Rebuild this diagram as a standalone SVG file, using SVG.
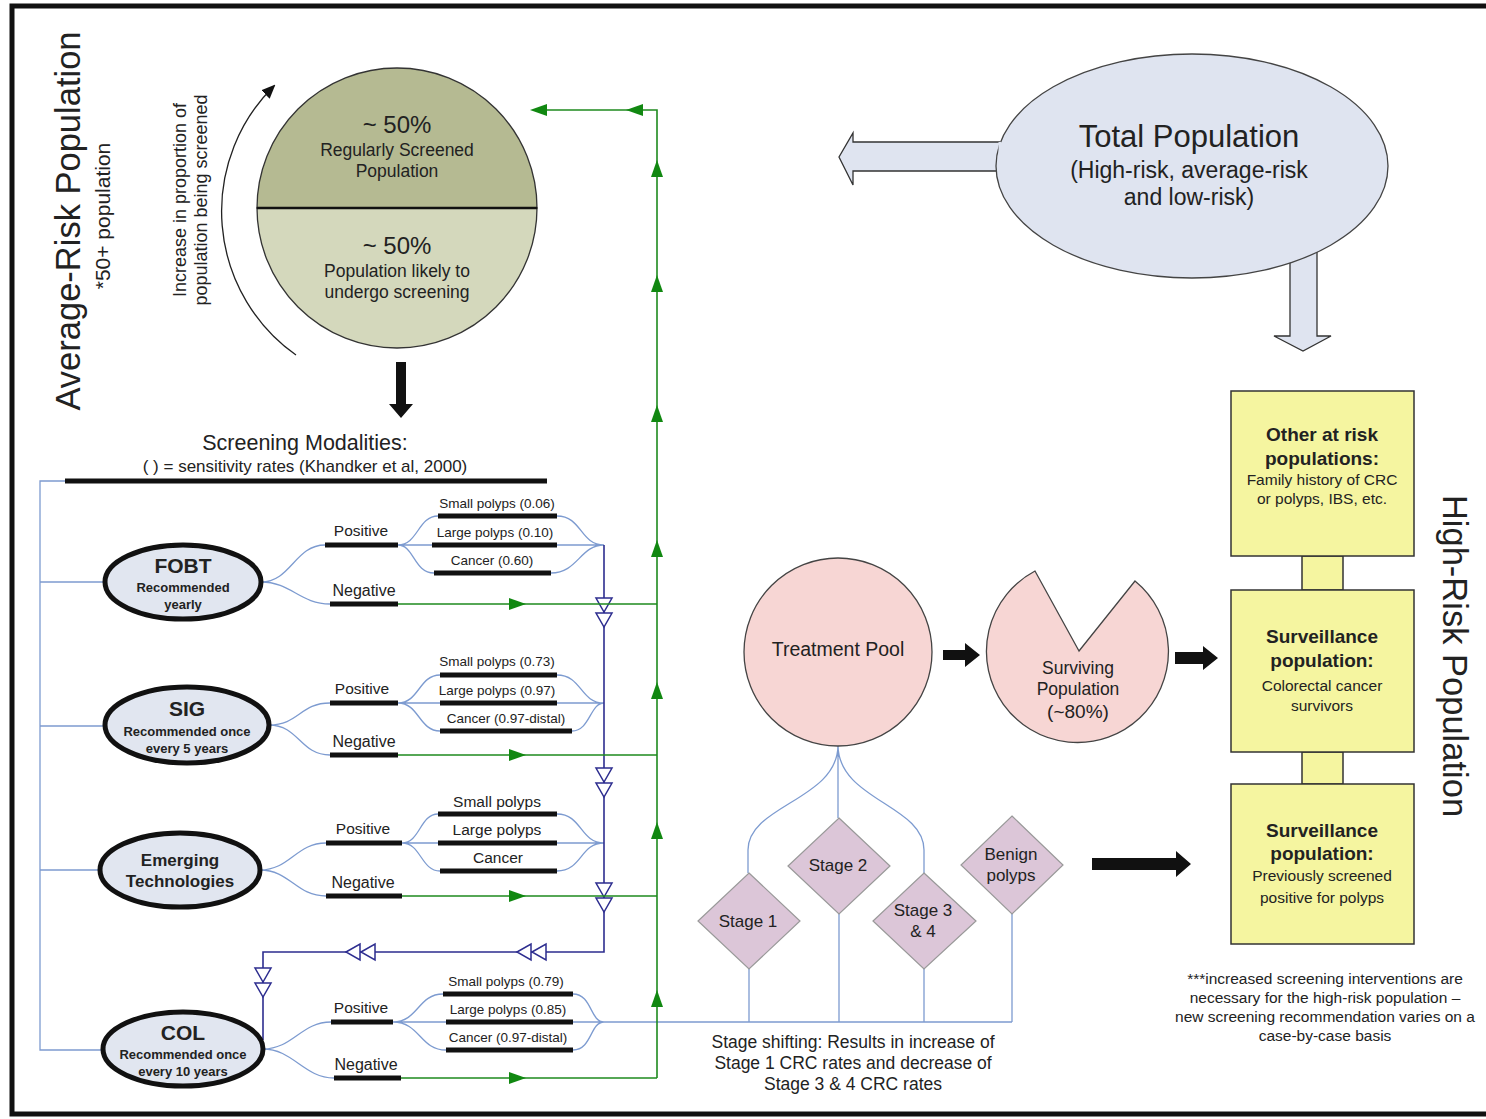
<svg xmlns="http://www.w3.org/2000/svg" width="1486" height="1119" viewBox="0 0 1486 1119">
<defs>
<style>
text{font-family:"Liberation Sans",Arial,sans-serif;fill:#222}
.c{text-anchor:middle}
.b{font-weight:bold}
.bar{stroke:#111;stroke-width:5;fill:none}
.lb{stroke:#7d9bd0;stroke-width:1.3;fill:none}
.nv{stroke:#2d2d8f;stroke-width:1.6;fill:none}
.gr{stroke:#1f8a1f;stroke-width:1.6;fill:none}
.gh{fill:#118811}
.hh{fill:#fff;stroke:#2d2d8f;stroke-width:1.5}
.node{fill:#e1e6f0;stroke:#111;stroke-width:5}
.dia{fill:#dcc6d8;stroke:#999;stroke-width:1.2}
.box{fill:#f5f5a0;stroke:#333;stroke-width:1.5}
.blk{fill:#111}
</style>
<marker id="arc" markerWidth="14" markerHeight="14" refX="12" refY="7" orient="auto" markerUnits="userSpaceOnUse">
<path d="M0 1 L14 7 L0 13 Z" fill="#111"/>
</marker>
<path id="gUp" d="M0 0 L-6 17 L6 17 Z"/>
<path id="gR" d="M0 0 L-17 -6 L-17 6 Z"/>
<path id="gL" d="M0 0 L17 -6 L17 6 Z"/>
<path id="dD" d="M-8 0 L8 0 L0 14 Z M-8 15 L8 15 L0 29 Z"/>
<path id="dL" d="M0 0 L14 -8 L14 8 Z M15 0 L29 -8 L29 8 Z"/>
</defs>
<rect x="0" y="0" width="1486" height="1119" fill="#fff"/>
<rect x="12" y="6" width="1480" height="1108" fill="none" stroke="#111" stroke-width="5"/>

<!-- side titles -->
<text x="80" y="221" class="c" font-size="34.5" transform="rotate(-90 80 221)">Average-Risk Population</text>
<text x="110" y="216" class="c" font-size="21" transform="rotate(-90 110 216)">*50+ population</text>
<text x="186" y="200" class="c" font-size="18" transform="rotate(-90 186 200)">Increase in proportion of</text>
<text x="207" y="200" class="c" font-size="18" transform="rotate(-90 207 200)">population being screened</text>
<text x="1443" y="656" class="c" font-size="34.5" transform="rotate(90 1443 656)">High-Risk Population</text>
<path d="M296 355 A176 176 0 0 1 274 86" fill="none" stroke="#222" stroke-width="1.3" marker-end="url(#arc)"/>

<!-- connectors -->
<g id="connectors">
<path class="lb" d="M65 481 L40 481 L40 1050 L103 1050 M40 582 L105 582 M40 726 L105 726 M40 870 L100 870"/>
<path class="lb" d="M261 582 C291 582 295 545 325 545 M261 582 C291 582 300 604 330 604 M398 545 C418 545 418 516 438 516 M398 545 L432 545 M398 545 C414 545 414 573 434 573 M557 516 C582 516 580 545 604 545 M557 545 L604 545 M551 573 C578 573 580 545 604 545"/>
<path class="lb" d="M269 725 C299 725 300 703 330 703 M269 725 C299 725 300 755 330 755 M398 703 C419 703 419 675 440 675 M398 703 L440 703 M398 703 C419 703 419 731 440 731 M557 675 C582 675 580 703 604 703 M557 703 L604 703 M572 731 C590 731 590 703 604 703"/>
<path class="lb" d="M260 870 C290 870 296 843 326 843 M260 870 C290 870 296 896 326 896 M402 843 C420 843 420 814 438 814 M402 843 L438 843 M402 843 C421 843 421 871 440 871 M557 814 C582 814 580 843 604 843 M557 843 L604 843 M557 871 C582 871 580 843 604 843"/>
<path class="lb" d="M263 1049 C293 1049 301 1022 331 1022 M263 1049 C293 1049 304 1078 334 1078 M393 1022 C418 1022 418 994 443 994 M393 1022 L446 1022 M393 1022 C420 1022 420 1050 446 1050 M573 994 C592 994 590 1022 604 1022 M573 1022 L604 1022 M573 1050 C592 1050 590 1022 604 1022 M604 1022 L1012 1022"/>
<path class="lb" d="M838 745 C838 800 748 805 748 850 L748 873 M838 745 L838 818 M838 745 C838 800 924 805 924 850 L924 873 M749 969 L749 1022 M839 914 L839 1022 M924 969 L924 1022 M1012 914 L1012 1022"/>
<path class="nv" d="M604 545 L604 952 L263 952 L263 1040"/>
<g class="hh">
<use href="#dD" x="604" y="598"/>
<use href="#dD" x="604" y="768"/>
<use href="#dD" x="604" y="883"/>
<use href="#dD" x="263" y="968"/>
<use href="#dL" x="346" y="952"/>
<use href="#dL" x="517" y="952"/>
</g>
<path class="gr" d="M398 604 L657 604 M398 755 L657 755 M402 896 L657 896 M401 1078 L657 1078 M657 1078 L657 110 L533 110"/>
<g class="gh">
<use href="#gR" x="526" y="604"/>
<use href="#gR" x="526" y="755"/>
<use href="#gR" x="526" y="896"/>
<use href="#gR" x="526" y="1078"/>
<use href="#gUp" x="657" y="990"/>
<use href="#gUp" x="657" y="822"/>
<use href="#gUp" x="657" y="682"/>
<use href="#gUp" x="657" y="540"/>
<use href="#gUp" x="657" y="405"/>
<use href="#gUp" x="657" y="275"/>
<use href="#gUp" x="657" y="160"/>
<use href="#gL" x="626" y="110"/>
<use href="#gL" x="530" y="110"/>
</g>
<path class="blk" d="M396 362 L406 362 L406 404 L413 404 L401 418 L389 404 L396 404 Z"/>
<path class="blk" d="M943 650 L965 650 L965 643 L980 655 L965 667 L965 660 L943 660 Z"/>
<path class="blk" d="M1175 652 L1203 652 L1203 646 L1218 658 L1203 670 L1203 664 L1175 664 Z"/>
<path class="blk" d="M1092 858 L1176 858 L1176 851 L1191 864 L1176 877 L1176 870 L1092 870 Z"/>
<path d="M1000 142 L853 142 L853 133 L839 157 L853 185 L853 171 L1000 171" fill="#dfe4f0" stroke="#333" stroke-width="1.3"/>
<path d="M1290 248 L1290 336 L1274 336 L1303 351 L1331 336 L1317 336 L1317 248" fill="#dfe4f0" stroke="#333" stroke-width="1.3"/>
</g>

<g id="screened-circle">
<path d="M257 208 A140 140 0 0 1 537 208 Z" fill="#b5ba92" stroke="#333" stroke-width="1.3"/>
<path d="M257 208 A140 140 0 0 0 537 208 Z" fill="#d4d8bc" stroke="#333" stroke-width="1.3"/>
<line x1="257" y1="208" x2="537" y2="208" stroke="#111" stroke-width="2.5"/>
<text x="397" y="133" class="c" font-size="24">~ 50%</text>
<text x="397" y="156" class="c" font-size="17.5">Regularly Screened</text>
<text x="397" y="177" class="c" font-size="17.5">Population</text>
<text x="397" y="254" class="c" font-size="24">~ 50%</text>
<text x="397" y="277" class="c" font-size="17.5">Population likely to</text>
<text x="397" y="298" class="c" font-size="17.5">undergo screening</text>
</g>

<g id="screening-modalities">
<text x="305" y="450" class="c" font-size="21.5">Screening Modalities:</text>
<text x="305" y="472" class="c" font-size="17">( ) = sensitivity rates (Khandker et al, 2000)</text>
<line class="bar" x1="65" y1="481" x2="547" y2="481" stroke-width="6"/>
</g>

<g id="fobt">
<ellipse class="node" cx="183" cy="582" rx="78" ry="37"/>
<text x="183" y="573" class="c b" font-size="21">FOBT</text>
<text x="183" y="592" class="c b" font-size="13">Recommended</text>
<text x="183" y="609" class="c b" font-size="13">yearly</text>
<path class="bar" d="M325 545 L398 545 M330 604 L398 604 M438 516 L557 516 M432 545 L557 545 M434 573 L551 573"/>
<text x="361" y="536" class="c" font-size="15.5">Positive</text>
<text x="364" y="596" class="c" font-size="16">Negative</text>
<text x="497" y="508" class="c" font-size="13.5">Small polyps (0.06)</text>
<text x="495" y="537" class="c" font-size="13.5">Large polyps (0.10)</text>
<text x="492" y="565" class="c" font-size="13.5">Cancer (0.60)</text>
</g>

<g id="sig">
<ellipse class="node" cx="187" cy="725" rx="82" ry="38"/>
<text x="187" y="716" class="c b" font-size="21">SIG</text>
<text x="187" y="736" class="c b" font-size="13">Recommended once</text>
<text x="187" y="753" class="c b" font-size="13">every 5 years</text>
<path class="bar" d="M330 703 L398 703 M330 755 L398 755 M440 675 L557 675 M440 703 L557 703 M440 731 L572 731"/>
<text x="362" y="694" class="c" font-size="15.5">Positive</text>
<text x="364" y="747" class="c" font-size="16">Negative</text>
<text x="497" y="666" class="c" font-size="13.5">Small polyps (0.73)</text>
<text x="497" y="695" class="c" font-size="13.5">Large polyps (0.97)</text>
<text x="506" y="723" class="c" font-size="13.5">Cancer (0.97-distal)</text>
</g>

<g id="emerging">
<ellipse class="node" cx="180" cy="870" rx="80" ry="37"/>
<text x="180" y="866" class="c b" font-size="17">Emerging</text>
<text x="180" y="887" class="c b" font-size="17">Technologies</text>
<path class="bar" d="M326 843 L402 843 M326 896 L402 896 M438 814 L557 814 M438 843 L557 843 M440 871 L557 871"/>
<text x="363" y="834" class="c" font-size="15.5">Positive</text>
<text x="363" y="888" class="c" font-size="16">Negative</text>
<text x="497" y="807" class="c" font-size="15.5">Small polyps</text>
<text x="497" y="835" class="c" font-size="15.5">Large polyps</text>
<text x="498" y="863" class="c" font-size="15.5">Cancer</text>
</g>

<g id="col">
<ellipse class="node" cx="183" cy="1049" rx="80" ry="37"/>
<text x="183" y="1040" class="c b" font-size="21">COL</text>
<text x="183" y="1059" class="c b" font-size="13">Recommended once</text>
<text x="183" y="1076" class="c b" font-size="13">every 10 years</text>
<path class="bar" d="M331 1022 L393 1022 M334 1078 L401 1078 M443 994 L573 994 M446 1022 L573 1022 M446 1050 L573 1050"/>
<text x="361" y="1013" class="c" font-size="15.5">Positive</text>
<text x="366" y="1070" class="c" font-size="16">Negative</text>
<text x="506" y="986" class="c" font-size="13.5">Small polyps (0.79)</text>
<text x="508" y="1014" class="c" font-size="13.5">Large polyps (0.85)</text>
<text x="508" y="1042" class="c" font-size="13.5">Cancer (0.97-distal)</text>
</g>

<g id="total-population">
<ellipse cx="1192" cy="166" rx="196" ry="112" fill="#dfe4f0" stroke="#444" stroke-width="1.3"/>
<path d="M1000 142 L1000 171" stroke="#dfe4f0" stroke-width="3"/>
<text x="1189" y="147" class="c" font-size="31">Total Population</text>
<text x="1189" y="178" class="c" font-size="23">(High-risk, average-risk</text>
<text x="1189" y="205" class="c" font-size="23">and low-risk)</text>
</g>

<g id="treatment-pool">
<circle cx="838" cy="652" r="94" fill="#f7d6d4" stroke="#444" stroke-width="1.3"/>
<text x="838" y="656" class="c" font-size="19.5">Treatment Pool</text>
</g>

<g id="surviving">
<path d="M1079 651 L1035 571 A91 91 0 1 0 1135 581 Z" fill="#f7d6d4" stroke="#444" stroke-width="1.3"/>
<text x="1078" y="674" class="c" font-size="17.5">Surviving</text>
<text x="1078" y="695" class="c" font-size="17.5">Population</text>
<text x="1078" y="718" class="c" font-size="19">(~80%)</text>
</g>

<g id="stage1">
<path class="dia" d="M749 873 L800 921 L749 969 L698 921 Z"/>
<text x="748" y="927" class="c" font-size="17">Stage 1</text>
</g>
<g id="stage2">
<path class="dia" d="M839 818 L890 866 L839 914 L788 866 Z"/>
<text x="838" y="871" class="c" font-size="17">Stage 2</text>
</g>
<g id="stage34">
<path class="dia" d="M924 873 L976 921 L924 969 L873 921 Z"/>
<text x="923" y="916" class="c" font-size="17">Stage 3</text>
<text x="923" y="937" class="c" font-size="17">&amp; 4</text>
</g>
<g id="benign">
<path class="dia" d="M1012 816 L1063 865 L1012 914 L961 865 Z"/>
<text x="1011" y="860" class="c" font-size="17">Benign</text>
<text x="1011" y="881" class="c" font-size="17">polyps</text>
</g>
<text x="853" y="1048" class="c" font-size="17.5">Stage shifting: Results in increase of</text>
<text x="853" y="1069" class="c" font-size="17.5">Stage 1 CRC rates and decrease of</text>
<text x="853" y="1090" class="c" font-size="17.5">Stage 3 &amp; 4 CRC rates</text>

<g id="high-risk-boxes">
<rect class="box" x="1302" y="556" width="41" height="34"/>
<rect class="box" x="1302" y="752" width="41" height="32"/>
<rect class="box" x="1231" y="391" width="183" height="165"/>
<rect class="box" x="1231" y="590" width="183" height="162"/>
<rect class="box" x="1231" y="784" width="183" height="160"/>
<text x="1322" y="441" class="c b" font-size="19">Other at risk</text>
<text x="1322" y="465" class="c b" font-size="19">populations:</text>
<text x="1322" y="485" class="c" font-size="15.5">Family history of CRC</text>
<text x="1322" y="504" class="c" font-size="15.5">or polyps, IBS, etc.</text>
<text x="1322" y="643" class="c b" font-size="19">Surveillance</text>
<text x="1322" y="667" class="c b" font-size="19">population:</text>
<text x="1322" y="691" class="c" font-size="15.5">Colorectal cancer</text>
<text x="1322" y="711" class="c" font-size="15.5">survivors</text>
<text x="1322" y="837" class="c b" font-size="19">Surveillance</text>
<text x="1322" y="860" class="c b" font-size="19">population:</text>
<text x="1322" y="881" class="c" font-size="15.5">Previously screened</text>
<text x="1322" y="903" class="c" font-size="15.5">positive for polyps</text>
</g>
<g id="footnote">
<text x="1325" y="984" class="c" font-size="15.5">***increased screening interventions are</text>
<text x="1325" y="1003" class="c" font-size="15.5">necessary for the high-risk population –</text>
<text x="1325" y="1022" class="c" font-size="15.5">new screening recommendation varies on a</text>
<text x="1325" y="1041" class="c" font-size="15.5">case-by-case basis</text>
</g>
</svg>
